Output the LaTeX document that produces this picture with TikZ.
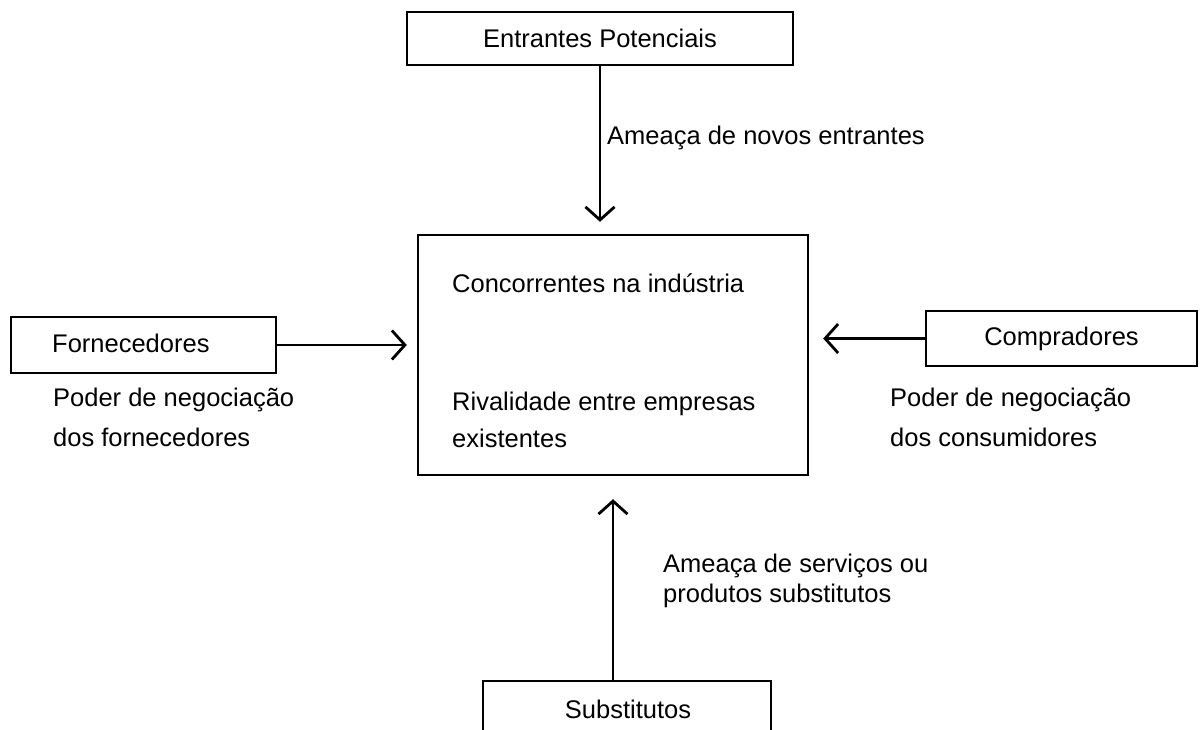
\documentclass[tikz,border=0pt]{standalone}
\usepackage{fontspec}
\setmainfont{Liberation Sans}
\usetikzlibrary{arrows.meta}
\begin{document}
\begin{tikzpicture}[x=1pt,y=-1pt,
  box/.style={draw, line width=2.4pt, inner sep=0pt},
  txt/.style={font=\fontsize{25.5}{30}\selectfont, inner sep=0pt},
  arr/.style={line width=2.6pt, -{Straight Barb[length=13pt,width=29pt,line width=2.8pt]}}]
\useasboundingbox (0,0) rectangle (1204,729);
\clip (0,0) rectangle (1204,729);
% boxes
\node[box, txt, minimum width=386pt, minimum height=53pt] (ent) at (600,38.5) {Entrantes Potenciais};
\node[box, minimum width=390pt, minimum height=240pt] (conc) at (613,355) {};
\node[box, minimum width=265pt, minimum height=56pt] (forn) at (143.5,345) {};
\node[box, txt, minimum width=271pt, minimum height=55pt] (comp) at (1061.5,338.5) {Compradores};
\node[box, minimum width=288pt, minimum height=80pt, anchor=north] (subs) at (627,680) {};
\coordinate (subtop) at (613,680);
% texts
\node[txt, anchor=base west] (tforn) at (52,352) {Fornecedores};
\node[txt, anchor=base] (tsubs) at (628,718) {Substitutos};
\node[txt, anchor=base west] (c1) at (452,292) {Concorrentes na indústria};
\node[txt, anchor=base west] (c2) at (452,410) {Rivalidade entre empresas};
\node[txt, anchor=base west] (c3) at (452,447) {existentes};
\node[txt, anchor=base west] (l1) at (607,144) {Ameaça de novos entrantes};
\node[txt, anchor=base west] (l2a) at (53,406) {Poder de negociação};
\node[txt, anchor=base west] (l2b) at (53,446) {dos fornecedores};
\node[txt, anchor=base west] (l3a) at (890,406) {Poder de negociação};
\node[txt, anchor=base west] (l3b) at (890,446) {dos consumidores};
\node[txt, anchor=base west] (l4a) at (663,572) {Ameaça de serviços ou};
\node[txt, anchor=base west] (l4b) at (663,602) {produtos substitutos};
% arrows
\draw[arr, shorten >=12pt] (ent.south) -- (ent.south |- conc.north);
\draw[arr, shorten >=10pt] (forn.east) -- (forn.east -| conc.west);
\draw[arr, shorten >=14pt] (comp.west) -- (comp.west -| conc.east);
\draw[arr, shorten >=23pt] (subtop) -- (subtop |- conc.south);
\end{tikzpicture}
\end{document}
